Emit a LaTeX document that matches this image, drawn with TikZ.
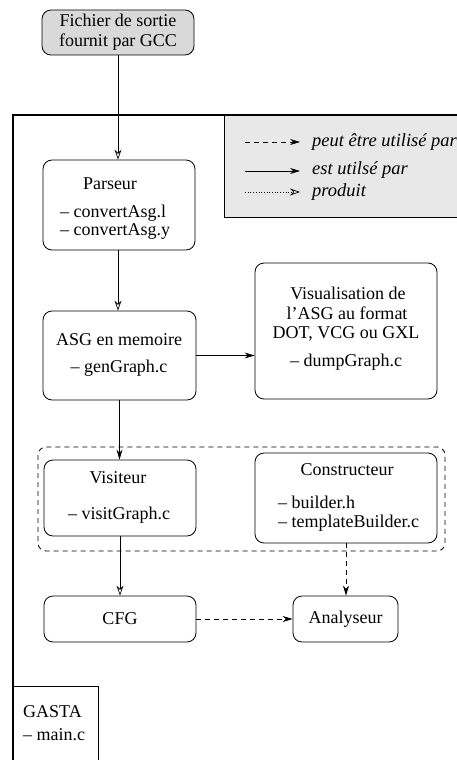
\documentclass[tikz,border=0pt]{standalone}
\usepackage{fontspec}
\setmainfont{Liberation Serif}
\usetikzlibrary{arrows.meta}
\begin{document}
\begin{tikzpicture}[x=1pt,y=-1pt,
  every node/.style={font=\fontsize{18}{20}\selectfont, inner sep=0pt},
  box/.style={draw, rounded corners=9pt, line width=0.8pt},
  lft/.style={anchor=west},
  legtxt/.style={anchor=west, font=\fontsize{18.5}{20}\selectfont\itshape},
  openhead/.style={line width=0.7pt, -{Stealth[open,length=10pt,width=7pt]}},
  fillhead/.style={line width=0.7pt, -{Stealth[length=10pt,width=6pt]}},
  dsh/.style={dash pattern=on 5pt off 4pt},
]
\useasboundingbox (0,0) rectangle (456,760);

% legend
\node[draw, line width=0.8pt, fill=gray!18, anchor=north west, minimum width=250pt, minimum height=102pt] (legend) at (224,115) {};
\coordinate (l1a) at (245,142); \coordinate (l1b) at (300,142);
\coordinate (l2a) at (245,171); \coordinate (l2b) at (300,171);
\coordinate (l3a) at (245,192); \coordinate (l3b) at (300,192);
\draw[fillhead, dsh] (l1a) -- (l1b);
\draw[fillhead] (l2a) -- (l2b);
\draw[openhead, dotted] (l3a) -- (l3b);
\node[legtxt] (t1) at (312,142) {peut être utilisé par};
\node[legtxt] (t2) at (312,170) {est utilsé par};
\node[legtxt] (t3) at (312,192) {produit};

% outer frame
\coordinate (frTR) at (470,115);
\coordinate (frTL) at (13,115);
\coordinate (frBL) at (13,775);
\draw[line width=1.6pt] (frTR) -- (frTL) -- (frBL);

% top file node
\node[box, fill=gray!30, minimum width=152pt, minimum height=45pt, align=center] (fichier) at (118,32.5) {Fichier de sortie\\fournit par GCC};

% Parseur
\node[box, minimum width=152pt, minimum height=90pt] (parseur) at (119,205) {};
\node (parT) at (110,184) {Parseur};
\node[lft] (parL1) at (60,213) {– convertAsg.l};
\node[lft] (parL2) at (60,231) {– convertAsg.y};

% ASG
\node[box, minimum width=153pt, minimum height=89pt] (asg) at (119.5,355.5) {};
\node (asgT) at (119,340) {ASG en memoire};
\node (asgL) at (119,368) {– genGraph.c};

% Visualisation
\node[box, minimum width=182pt, minimum height=136pt] (vis) at (346,331) {};
\node (visT1) at (348,293) {Visualisation de};
\node (visT2) at (347,313) {l’ASG au format};
\node (visT3) at (346,334) {DOT, VCG ou GXL};
\node (visL) at (346,362) {– dumpGraph.c};

% dashed group
\draw[dsh, line width=0.8pt, rounded corners=8pt] (38,447) rectangle (445,551);
\coordinate (grp) at (38,447);

% Visiteur
\node[box, minimum width=152pt, minimum height=76pt] (visit) at (120,498) {};
\node (visitT) at (118,478) {Visiteur};
\node (visitL) at (119,515) {– visitGraph.c};

% Constructeur
\node[box, minimum width=182pt, minimum height=90pt] (constr) at (346,498) {};
\node (constrT) at (347,470) {Constructeur};
\node[lft] (constrL1) at (278,502) {– builder.h};
\node[lft] (constrL2) at (278,523) {– templateBuilder.c};

% CFG and Analyseur
\node[box, minimum width=152pt, minimum height=46pt] (cfg) at (120,619) {CFG};
\node[box, minimum width=105pt, minimum height=46pt] (analyseur) at (345.5,619) {Analyseur};

% GASTA
\node[draw, line width=0.8pt, anchor=north west, minimum width=85pt, minimum height=90pt] (gasta) at (13,686) {};
\node[lft] (gastaT) at (23,712) {GASTA};
\node[lft] (gastaL) at (23,735) {– main.c};

% connectors
\draw[openhead] (fichier.south) -- (fichier.south |- parseur.north);
\draw[openhead] ([xshift=-1pt]parseur.south) -- ([xshift=-1pt]parseur.south |- asg.north);
\draw[fillhead] (asg.south) -- (asg.south |- visit.north);
\draw[openhead] (visit.south) -- (cfg.north);
\draw[fillhead] (asg.east) -- (vis.west |- asg.east);
\draw[fillhead, dsh] (cfg.east) -- (analyseur.west);
\draw[fillhead, dsh] (constr.south) -- (constr.south |- analyseur.north);
\end{tikzpicture}
\end{document}
